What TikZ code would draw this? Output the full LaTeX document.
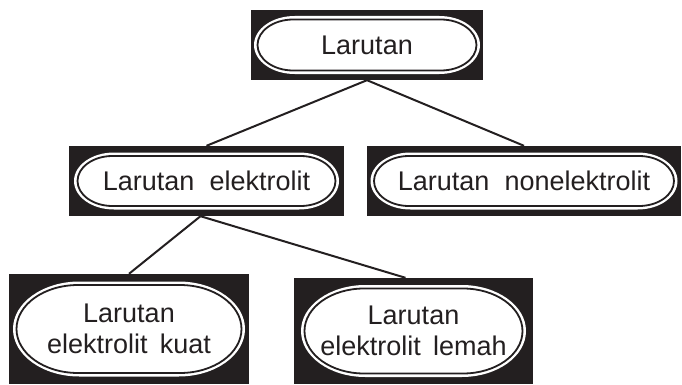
\documentclass[tikz,border=0pt]{standalone}
\usepackage{fontspec}
\setmainfont{Liberation Sans}
\definecolor{ink}{RGB}{35,31,32}
\newcommand\stadshape[6]{% cx, cy, w, h, rxfactor, style
  \pgfmathsetmacro\sx{#1}\pgfmathsetmacro\sy{#2}%
  \pgfmathsetmacro\sw{#3}\pgfmathsetmacro\sh{#4}%
  \pgfmathsetmacro\srx{#5*\sh}\pgfmathsetmacro\sry{\sh/2}%
  \pgfmathsetmacro\sxl{\sx-\sw/2+\srx}\pgfmathsetmacro\sxr{\sx+\sw/2-\srx}%
  \pgfmathsetmacro\syt{\sy+\sh/2}\pgfmathsetmacro\syb{\sy-\sh/2}%
  \path[#6] (\sxl,\syt) -- (\sxr,\syt) arc[start angle=90,end angle=-90,x radius=\srx,y radius=\sry]
    -- (\sxl,\syb) arc[start angle=-90,end angle=-270,x radius=\srx,y radius=\sry] -- cycle;
}
\newcommand\mybox[8]{% name, cx, cy, W, H, sw, sh, text
  \node[blk, minimum width=#4, minimum height=#5] (#1) at (#2,#3) {};
  \stadshape{#2}{#3}{#6}{#7}{0.7}{fill=white}
  \stadshape{#2}{#3}{#6-7}{#7-7}{0.7}{draw=ink, line width=1.8pt}
  \node[lbl] (#1t) at (#2,#3) {#8};
}
\begin{document}
\begin{tikzpicture}[x=1pt,y=1pt,
  blk/.style={rectangle, fill=ink, draw=none, inner sep=0pt},
  lbl/.style={inner sep=0pt, align=center, text=ink, font=\fontsize{27}{31.5}\selectfont},
  conn/.style={draw=ink, line width=2pt}]
\useasboundingbox (0,0) rectangle (682,384);
\mybox{b1}{367}{339}{232pt}{70pt}{226}{58}{Larutan}
\mybox{b2}{206.5}{203}{275pt}{70pt}{265}{57}{Larutan\hspace{0.56em}elektrolit}
\mybox{b3}{524}{203}{314pt}{70pt}{307}{57}{Larutan\hspace{0.56em}nonelektrolit}
\mybox{b4}{129}{55}{240pt}{110pt}{232}{95}{Larutan\\elektrolit\hspace{0.45em}kuat}
\mybox{b5}{413.5}{53}{239pt}{106pt}{225}{92}{Larutan\\elektrolit\hspace{0.45em}lemah}
\draw[conn] (b1.south) -- (b2.north);
\draw[conn] (b1.south) -- (b3.north);
\draw[conn] ([xshift=-6pt]b2.south) -- (b4.north);
\draw[conn] ([xshift=-6pt]b2.south) -- ([xshift=-8pt]b5.north);
\end{tikzpicture}
\end{document}
